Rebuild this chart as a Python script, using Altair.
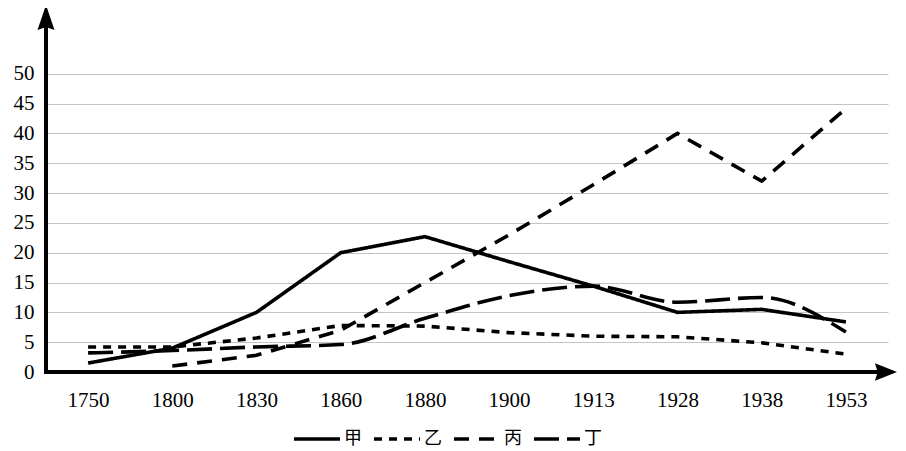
import altair as alt
import pandas as pd

years = ["1750", "1800", "1830", "1860", "1880", "1900", "1913", "1928", "1938", "1953"]
series_names = ["甲", "乙", "丙", "丁"]
jia = [1.5, 4.0, 10.0, 20.0, 22.7, 18.5, 14.4, 10.0, 10.5, 8.4]
yi = [4.2, 4.2, 5.7, 7.8, 7.7, 6.6, 6.0, 5.9, 4.9, 3.0]
bing = [None, 1.0, 2.8, 7.0, 15.0, 23.0, 31.4, 40.0, 32.0, 44.2]
ding = [3.2, 3.6, 4.2, 4.6, 9.0, 12.8, 14.4, 11.7, 12.5, 6.7]
y_ticks = [0, 5, 10, 15, 20, 25, 30, 35, 40, 45, 50]
dash_styles = [[1, 0], [8, 7], [15, 10], [25, 8]]

rows = []
for name, vals in zip(series_names, [jia, yi, bing, ding]):
    for yr, v in zip(years, vals):
        if v is not None:
            rows.append({"year": yr, "value": v, "series": name})
df = pd.DataFrame(rows)

W, H = 842, 359

x_enc = alt.X(
    "year:N", sort=years,
    scale=alt.Scale(type="point", padding=0.5, domain=years),
    axis=alt.Axis(title=None, domain=False, ticks=False, grid=False, labelAngle=0,
                  labelFont="Liberation Serif", labelFontSize=21, labelColor="black",
                  labelPadding=17),
)
y_enc = alt.Y(
    "value:Q",
    scale=alt.Scale(domain=[0, 60.2], nice=False, zero=True),
    axis=alt.Axis(title=None, values=y_ticks, domain=False, ticks=False, grid=True,
                  gridColor="#c4c4c4", gridWidth=1,
                  labelFont="Liberation Serif", labelFontSize=21, labelColor="black",
                  labelPadding=12),
)
dash_enc = alt.StrokeDash(
    "series:N",
    scale=alt.Scale(domain=series_names, range=dash_styles),
    legend=alt.Legend(
        title=None, orient="none", legendX=246, legendY=414, direction="horizontal",
        symbolType="M-1,0L3.6,0", symbolSize=400, symbolStrokeWidth=3.5,
        symbolStrokeColor="black", symbolFillColor="transparent",
        labelFont="Noto Sans CJK SC", labelFontSize=18,
        labelColor="black", labelOffset=28, columnPadding=5, padding=0,
    ),
)

base = alt.Chart(df).encode(x=x_enc, y=y_enc, strokeDash=dash_enc)
lines_linear = base.transform_filter(alt.datum.series != "丁").mark_line(
    color="black", strokeWidth=3.6, strokeCap="butt")
line_smooth = base.transform_filter(alt.datum.series == "丁").mark_line(
    color="black", strokeWidth=3.6, strokeCap="butt", interpolate="monotone")

one = pd.DataFrame({"k": [0]})
y_axis_line = alt.Chart(one).mark_rule(color="black", strokeWidth=4).encode(
    x=alt.value(0), y=alt.value(6), y2=alt.value(H + 2))
x_axis_line = alt.Chart(one).mark_rule(color="black", strokeWidth=4).encode(
    x=alt.value(-2), x2=alt.value(836), y=alt.value(H))
y_arrow = alt.Chart(one).mark_point(
    shape="M0,-1L0.68,1L0,0.76L-0.68,1Z", filled=True, color="black", opacity=1,
    size=625, strokeWidth=0).encode(x=alt.value(0), y=alt.value(4.5))
x_arrow = alt.Chart(one).mark_point(
    shape="M1,0L-1,0.8L-0.76,0L-1,-0.8Z", filled=True, color="black", opacity=1,
    size=484, strokeWidth=0).encode(x=alt.value(840), y=alt.value(H))

chart = alt.layer(
    lines_linear, line_smooth, y_axis_line, x_axis_line, y_arrow, x_arrow
).properties(
    width=W, height=H,
    padding={"left": 38, "top": 5, "right": 10, "bottom": 75},
    autosize=alt.AutoSizeParams(type="none"),
).configure_view(stroke=None)

chart.save("out.html", embed_options={"renderer": "svg", "actions": False})
